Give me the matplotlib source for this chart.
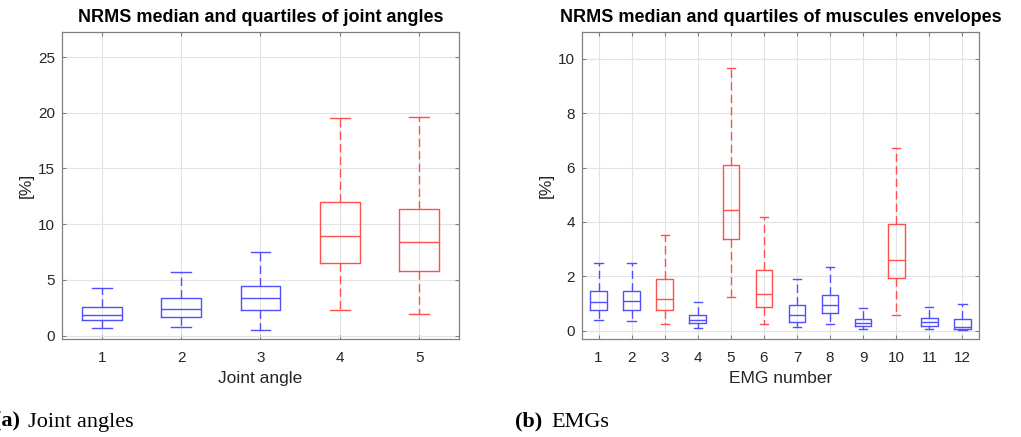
import matplotlib.pyplot as plt

plt.rcParams['font.family'] = ['Liberation Sans', 'DejaVu Sans']

# joint angles: whisker low, Q1, median, Q3, whisker high
joint_ids = [1, 2, 3, 4, 5]
joint_lo = [0.66, 0.75, 0.51, 2.27, 1.94]
joint_q1 = [1.41, 1.70, 2.30, 6.49, 5.80]
joint_med = [1.85, 2.42, 3.41, 8.91, 8.40]
joint_q3 = [2.57, 3.35, 4.43, 11.96, 11.36]
joint_hi = [4.28, 5.71, 7.48, 19.56, 19.59]
joint_red = [4, 5]

# EMG envelopes
emg_ids = [1, 2, 3, 4, 5, 6, 7, 8, 9, 10, 11, 12]
emg_lo = [0.39, 0.36, 0.25, 0.10, 1.24, 0.25, 0.15, 0.25, 0.06, 0.59, 0.06, 0.02]
emg_q1 = [0.76, 0.75, 0.77, 0.28, 3.37, 0.87, 0.33, 0.65, 0.18, 1.94, 0.18, 0.06]
emg_med = [1.05, 1.09, 1.18, 0.39, 4.44, 1.36, 0.59, 0.94, 0.28, 2.61, 0.31, 0.13]
emg_q3 = [1.48, 1.45, 1.89, 0.59, 6.10, 2.25, 0.96, 1.31, 0.44, 3.91, 0.47, 0.43]
emg_hi = [2.49, 2.49, 3.53, 1.05, 9.66, 4.20, 1.89, 2.33, 0.82, 6.72, 0.87, 0.99]
emg_red = [3, 5, 6, 10]

BLUE = '#5050ff'
RED = '#ff5050'
TXT = '#262626'


def draw_boxes(ax, ids, lo, q1, med, q3, hi, red_ids):
    for i, x in enumerate(ids):
        col = RED if x in red_ids else BLUE
        st = [dict(med=med[i], q1=q1[i], q3=q3[i], whislo=lo[i], whishi=hi[i], fliers=[])]
        ax.bxp(st, positions=[x], widths=0.5, showfliers=False, manage_ticks=False,
               boxprops=dict(color=col, lw=1.0),
               medianprops=dict(color=col, lw=1.0),
               whiskerprops=dict(color=col, lw=1.0, linestyle=(0, (6, 3))),
               capprops=dict(color=col, lw=1.0), capwidths=0.25, zorder=3)


def style(ax, title, xlabel):
    ax.set_title(title, fontsize=13, fontweight='bold', color='black', pad=7)
    ax.set_xlabel(xlabel, fontsize=12.5, color=TXT, labelpad=4)
    ax.set_ylabel('[%]', fontsize=12.5, color=TXT, labelpad=3)
    ax.grid(True, color='#e3e3e3', lw=0.8, zorder=0)
    ax.set_axisbelow(True)
    ax.tick_params(direction='in', length=3, top=True, right=True, labelsize=11,
                   colors='#808080', labelcolor=TXT)
    ax.tick_params(axis='x', pad=9)
    ax.tick_params(axis='y', pad=5)
    for s in ax.spines.values():
        s.set_color('#808080')
        s.set_linewidth(0.9)


fig = plt.figure(figsize=(10.21, 4.37), dpi=100)
ax1 = fig.add_axes([0.0607, 0.2243, 0.3888, 0.7025])
ax2 = fig.add_axes([0.5700, 0.2243, 0.3888, 0.7025])

draw_boxes(ax1, joint_ids, joint_lo, joint_q1, joint_med, joint_q3, joint_hi, joint_red)
ax1.set_xlim(0.5, 5.5)
ax1.set_ylim(-0.3, 27.25)
ax1.set_xticks(joint_ids)
ax1.set_yticks([0, 5, 10, 15, 20, 25])
style(ax1, 'NRMS median and quartiles of joint angles', 'Joint angle')

draw_boxes(ax2, emg_ids, emg_lo, emg_q1, emg_med, emg_q3, emg_hi, emg_red)
ax2.set_xlim(0.5, 12.5)
ax2.set_ylim(-0.3, 10.98)
ax2.set_xticks(emg_ids)
ax2.set_yticks([0, 2, 4, 6, 8, 10])
style(ax2, 'NRMS median and quartiles of muscules envelopes', 'EMG number')

# sub-figure captions
cap = dict(fontsize=16, family='Liberation Serif', va='baseline', color='black')
fig.text(-0.006, 0.023, '(a)', fontweight='bold', **cap)
fig.text(0.0275, 0.023, 'Joint angles', **cap)
fig.text(0.5045, 0.023, '(b)', fontweight='bold', **cap)
fig.text(0.540, 0.023, 'EMGs', **cap)

fig.savefig('out.png', dpi=100)
